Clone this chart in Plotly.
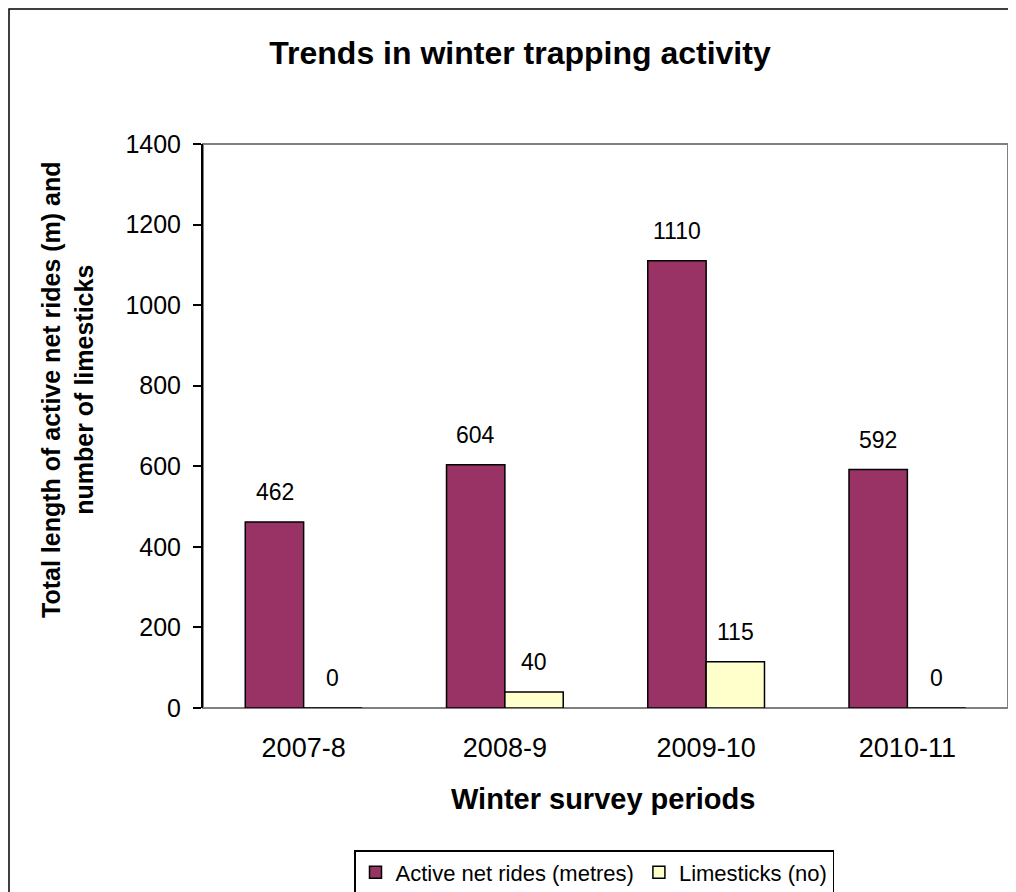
import plotly.graph_objects as go

categories = ["2007-8", "2008-9", "2009-10", "2010-11"]
net_rides = [462, 604, 1110, 592]
limesticks = [0, 40, 115, 0]
y_ticks = [0, 200, 400, 600, 800, 1000, 1200, 1400]

# page body has an 8px margin; the figure is offset by (8, 8) on screen
OFF = 8
W, H = 1016, 892
L, R, T, B = 203 - OFF, 16, 144 - OFF, 892 - 708 + OFF
pw, ph = W - L - R, H - T - B


def px(sx):
    return (sx - 203) / pw


def py(sy):
    return (708 - sy) / ph


FONT = "Liberation Sans, Arial, sans-serif"

fig = go.Figure()
fig.add_trace(go.Bar(x=categories, y=net_rides, name="Active net rides (metres)",
                     marker=dict(color="#993366", line=dict(color="black", width=1.5))))
fig.add_trace(go.Bar(x=categories, y=limesticks, name="Limesticks (no)",
                     marker=dict(color="#FFFFCC", line=dict(color="black", width=1.5))))

ann = []
for i, c in enumerate(categories):
    for vals, shift in ((net_rides, -29), (limesticks, 29)):
        ann.append(dict(x=c, y=vals[i], text=str(vals[i]), xref="x", yref="y",
                        showarrow=False, xshift=shift, yshift=30,
                        xanchor="center", yanchor="middle",
                        font=dict(size=23, color="black", family=FONT)))

ann.append(dict(text="<b>Total length of active net rides (m) and<br>number of limesticks</b>",
                xref="paper", yref="paper", x=px(67), y=py(390),
                xanchor="center", yanchor="middle",
                textangle=-90, showarrow=False, font=dict(size=25, color="black", family=FONT)))
ann.append(dict(text="<b>Winter survey periods</b>", xref="paper", yref="paper",
                x=px(603), y=py(799), xanchor="center", yanchor="middle", showarrow=False,
                font=dict(size=29, color="black", family=FONT)))

shapes = [
    dict(type="rect", xref="paper", yref="paper", x0=0, x1=1, y0=0, y1=1,
         line=dict(color="#808080", width=2), layer="below"),
    dict(type="rect", xref="paper", yref="paper", x0=px(9), x1=px(W + 20),
         y0=py(H + 20), y1=py(OFF + 1),
         line=dict(color="black", width=1.5)),
]

fig.update_layout(
    width=W, height=H,
    margin=dict(l=L, r=R, t=T, b=B, autoexpand=False),
    paper_bgcolor="white", plot_bgcolor="white",
    barmode="group", bargap=0.42, bargroupgap=0,
    font=dict(family=FONT, color="black"),
    title=dict(text="<b>Trends in winter trapping activity</b>", x=(520 - OFF) / W,
               xanchor="center", y=1 - (53 - OFF) / H, yanchor="middle",
               font=dict(size=32, color="black", family=FONT)),
    xaxis=dict(type="category", showgrid=False, showline=False, ticks="",
               tickfont=dict(size=27), ticklabelstandoff=21),
    yaxis=dict(range=[0, 1400], tickvals=y_ticks, showgrid=False, zeroline=False,
               showline=True, linecolor="black", linewidth=2, ticks="outside", ticklen=8,
               tickcolor="black", tickwidth=1.5, tickfont=dict(size=25), ticklabelstandoff=7),
    legend=dict(orientation="h", x=px(594), xanchor="center", y=py(850),
                yanchor="top", bordercolor="black", borderwidth=1.5,
                font=dict(size=22, family=FONT), itemwidth=30),
    annotations=ann, shapes=shapes,
)

fig.write_html("out.html")
